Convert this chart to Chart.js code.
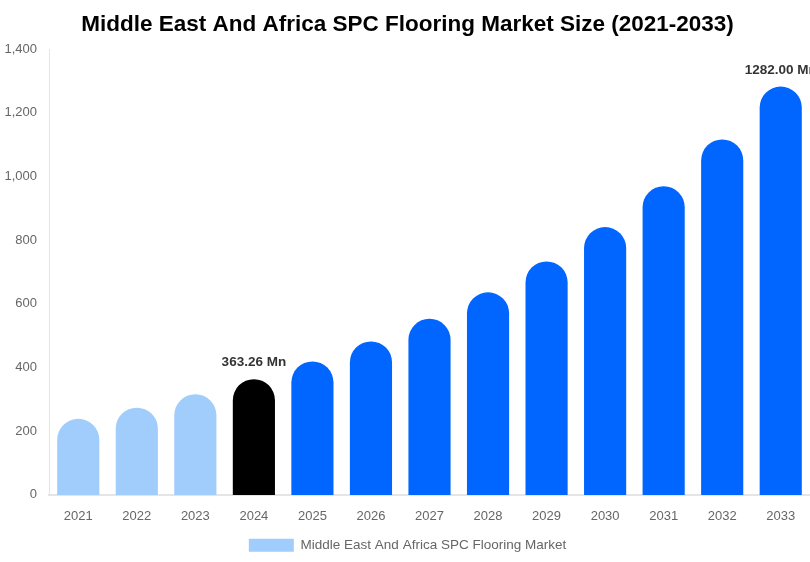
<!DOCTYPE html>
<html>
<head>
<meta charset="utf-8">
<title>Middle East And Africa SPC Flooring Market Size</title>
<script src="https://cdn.jsdelivr.net/npm/chart.js@4.4.1/dist/chart.umd.min.js"></script>
<style>
    html, body { margin: 0; padding: 0; background: #fff; }
    #wrap { width: 810px; height: 562px; position: relative; }
</style>
</head>
<body>
<div id="wrap"><canvas id="marketChart"></canvas></div>
<script>
// Chart data
const years = ['2021', '2022', '2023', '2024', '2025', '2026', '2027', '2028', '2029', '2030', '2031', '2032', '2033'];
const marketSize = [239, 274, 316, 363.26, 419, 482, 553, 636, 733, 841, 969, 1116, 1282];
const barColors = ['#a0cdfc', '#a0cdfc', '#a0cdfc', '#000000', '#0066ff', '#0066ff', '#0066ff', '#0066ff', '#0066ff', '#0066ff', '#0066ff', '#0066ff', '#0066ff'];
const labelledYears = ['2024', '2033'];
const yTicks = [0, 200, 400, 600, 800, 1000, 1200, 1400];

// draws the "xxx Mn" labels above selected bars
const valueLabels = {
    id: 'valueLabels',
    afterDatasetsDraw(chart) {
        const ctx = chart.ctx;
        const meta = chart.getDatasetMeta(0);
        ctx.save();
        ctx.font = 'bold 13.5px "Liberation Sans", Arial, sans-serif';
        ctx.fillStyle = '#333333';
        ctx.textAlign = 'center';
        ctx.textBaseline = 'bottom';
        meta.data.forEach(function(bar, i) {
            if (labelledYears.indexOf(years[i]) === -1) return;
            ctx.fillText(marketSize[i].toFixed(2) + ' Mn', bar.x, bar.y - 10);
        });
        ctx.restore();
    }
};

document.addEventListener('DOMContentLoaded', function() {
    const ctx = document.getElementById('marketChart');
    new Chart(ctx, {
        type: 'bar',
        data: {
            labels: years,
            datasets: [{
                label: 'Middle East And Africa SPC Flooring Market',
                data: marketSize,
                backgroundColor: barColors,
                borderRadius: { topLeft: 21, topRight: 21 },
                borderSkipped: 'bottom',
                barPercentage: 0.8,
                categoryPercentage: 0.9
            }]
        },
        options: {
            responsive: true,
            maintainAspectRatio: false,
            animation: false,
            layout: { padding: { top: 11, right: 0, left: 5, bottom: 0 } },
            plugins: {
                title: {
                    display: true,
                    text: 'Middle East And Africa SPC Flooring Market Size (2021-2033)',
                    color: '#000',
                    font: { family: '"Liberation Sans", Arial, sans-serif', size: 22.5, weight: 'bold' },
                    padding: { top: 0, bottom: 11 }
                },
                legend: {
                    position: 'bottom',
                    labels: {
                        boxWidth: 45,
                        boxHeight: 13,
                        color: '#666',
                        font: { family: '"Liberation Sans", Arial, sans-serif', size: 13.5 },
                        padding: 9
                    }
                },
                tooltip: { enabled: false }
            },
            scales: {
                x: {
                    grid: { display: false, drawTicks: false },
                    border: { color: '#e5e5e5', width: 2 },
                    ticks: {
                        color: '#666',
                        font: { family: '"Liberation Sans", Arial, sans-serif', size: 13 },
                        padding: 14
                    },
                    afterFit: function(axis) { axis.height = axis.height - 9; }
                },
                y: {
                    min: 0,
                    max: 1400,
                    afterBuildTicks: function(axis) {
                        axis.ticks = yTicks.map(function(v) { return { value: v }; });
                    },
                    grid: { display: false, drawTicks: false },
                    border: { color: '#e5e5e5', width: 1 },
                    ticks: {
                        color: '#666',
                        font: { family: '"Liberation Sans", Arial, sans-serif', size: 13 },
                        padding: 12,
                        callback: function(v) { return v.toLocaleString('en-US'); }
                    },
                    afterFit: function(axis) { axis.width = 44; }
                }
            }
        },
        plugins: [valueLabels]
    });
});
</script>
</body>
</html>
